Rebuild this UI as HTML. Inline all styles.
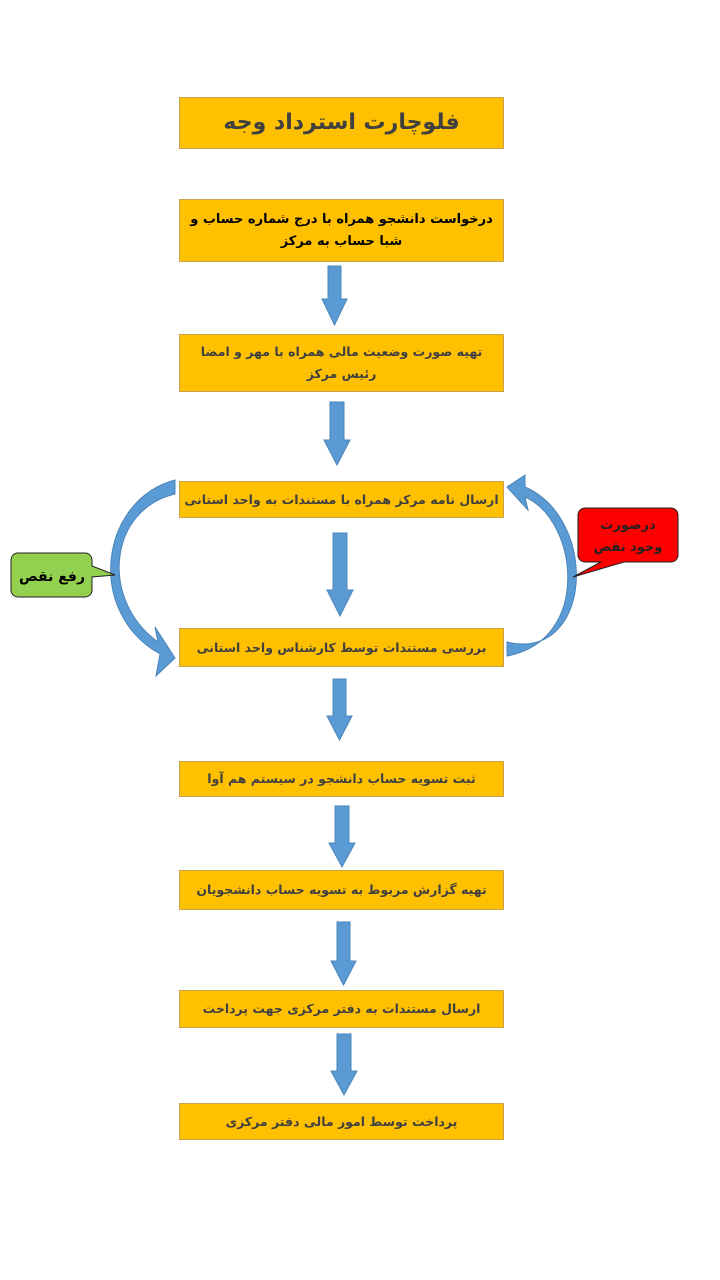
<!DOCTYPE html>
<html><head><meta charset="utf-8"><style>
body{margin:0;background:#fff;width:720px;height:1280px;position:relative;overflow:hidden;font-family:"DejaVu Sans",sans-serif}
.b{position:absolute;left:179px;width:325px;background:#FFC000;border:1px solid #c9a34a;box-sizing:border-box;display:flex;align-items:center;justify-content:center;text-align:center;direction:rtl;color:#404040;font-weight:bold;font-size:12.5px;line-height:22px;white-space:nowrap;letter-spacing:-0.3px}
svg{position:absolute;left:0;top:0}
</style></head><body>
<div class="b" style="top:97px;height:52px;font-size:22px">فلوچارت استرداد وجه</div>
<div class="b" style="top:199px;height:63px;color:#000;font-size:13px">درخواست دانشجو همراه با درج شماره حساب و<br>شبا حساب به مرکز</div>
<div class="b" style="top:334px;height:58px">تهیه صورت وضعیت مالی همراه با مهر و امضا<br>رئیس مرکز</div>
<div class="b" style="top:481px;height:37px">ارسال نامه مرکز همراه با مستندات به واحد استانی</div>
<div class="b" style="top:628px;height:39px">بررسی مستندات توسط کارشناس واحد استانی</div>
<div class="b" style="top:761px;height:36px">ثبت تسویه حساب دانشجو در سیستم هم آوا</div>
<div class="b" style="top:870px;height:40px">تهیه گزارش مربوط به تسویه حساب دانشجویان</div>
<div class="b" style="top:990px;height:38px">ارسال مستندات به دفتر مرکزی جهت پرداخت</div>
<div class="b" style="top:1103px;height:37px">پرداخت توسط امور مالی دفتر مرکزی</div>
<svg width="720" height="1280">
<g fill="#5B9BD5" stroke="#4a84b8" stroke-width="1">
<path d="M328 266h13v33h6l-12.5 26l-12.5-26h6z"/>
<path d="M330 402h14v38h6l-13 25l-13-25h6z"/>
<path d="M333 533h14v57h6l-13 26l-13-26h6z"/>
<path d="M333 679h13v37h6l-12.5 24l-12.5-24h6z"/>
<path d="M335 806h14v37h6l-13 24l-13-24h6z"/>
<path d="M337 922h13v39h6l-12.5 24l-12.5-24h6z"/>
<path d="M337 1034h14v37h6l-13 24l-13-24h6z"/>
<path d="M175 494 C108 510 100 600 158 642 L155 627 L175 658 L156 676 L160 654 C85 612 100 500 175 480 Z"/>
<path d="M507 656 C592 640 578 520 525 497 L528 510 L507 487 L525 475 L525 487 C600 520 592 662 507 642 Z"/>
</g>
<path d="M18 553h67a7 7 0 0 1 7 7v6l23 9l-23 2v13a7 7 0 0 1-7 7h-67a7 7 0 0 1-7-7v-30a7 7 0 0 1 7-7z" fill="#92D050" stroke="#222" stroke-width="1"/>
<path d="M585 508h86a7 7 0 0 1 7 7v40a7 7 0 0 1-7 7h-47l-51 15l28-15h-16a7 7 0 0 1-7-7v-40a7 7 0 0 1 7-7z" fill="#FF0000" stroke="#222" stroke-width="1"/>
<text x="52" y="581" font-size="14" font-weight="bold" text-anchor="middle" direction="rtl" font-family="DejaVu Sans,sans-serif">رفع نقص</text>
<text x="628" y="529" font-size="13" font-weight="bold" text-anchor="middle" direction="rtl" fill="#222" font-family="DejaVu Sans,sans-serif">درصورت</text>
<text x="628" y="551" font-size="13" font-weight="bold" text-anchor="middle" direction="rtl" fill="#222" font-family="DejaVu Sans,sans-serif">وجود نقص</text>
</svg>
</body></html>
